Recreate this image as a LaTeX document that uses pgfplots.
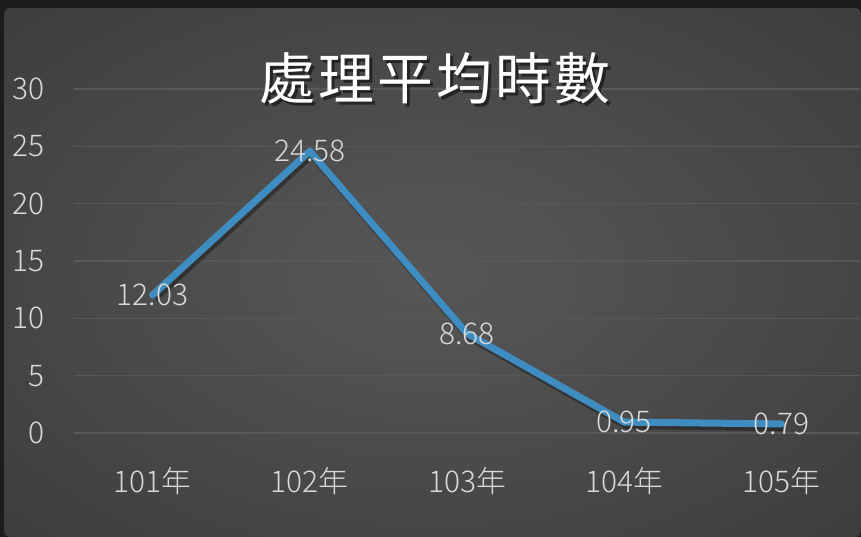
\documentclass[border=0pt]{standalone}
\usepackage{fontspec}
\setmainfont{Noto Sans CJK TC}[UprightFont={* Light},BoldFont={* Bold}]
\newfontfamily\titlefont{Noto Sans CJK TC}[LetterSpace=6]
\usepackage{pgfplots}
\usepackage{pgfplotstable}
\pgfplotsset{compat=1.18}
\definecolor{bgframe}{HTML}{1C1C1C}
\definecolor{gridc}{HTML}{585858}
\definecolor{labc}{HTML}{D9D9D9}
\definecolor{linec}{HTML}{3F8DC0}
\pgfdeclareradialshading{glow}{\pgfpoint{0bp}{0bp}}{%
  color(0bp)=(rgb,255:red,86;green,86;blue,86);
  color(8bp)=(rgb,255:red,82;green,82;blue,82);
  color(60bp)=(rgb,255:red,42;green,42;blue,42);
  color(70bp)=(rgb,255:red,36;green,36;blue,36)}

\pgfplotstableread{
x y
0 12.03
1 24.58
2 8.68
3 0.95
4 0.79
}\hours

\begin{document}
\begin{tikzpicture}
\useasboundingbox (0,0) rectangle (861bp,537bp);
\fill[bgframe] (0,0) rectangle (861bp,537bp);
\shade[shading=glow, rounded corners=6bp] (4bp,0) rectangle (861bp,529bp);
\begin{axis}[
  at={(74bp,104bp)}, anchor=south west,
  scale only axis, width=786bp, height=344bp,
  xmin=-0.5, xmax=4.5, ymin=0, ymax=30,
  xtick={0,...,4}, xticklabels={101年,102年,103年,104年,105年},
  ytick={0,5,...,30},
  axis line style={draw=none},
  major tick length=0pt,
  ymajorgrids, grid style={gridc, line width=1.5bp},
  tick label style={font=\fontsize{30}{32}\selectfont, text=labc},
  yticklabel style={anchor=east, xshift=-26bp},
  xticklabel style={anchor=north, yshift=-31bp},
  /pgf/number format/assume math mode=true,
  clip=false,
]
\addplot[black, opacity=0.35, line width=8bp, line join=round, xshift=2bp, yshift=-3bp] table[x=x,y=y]{\hours};
\addplot[linec, line width=7bp, line join=round, line cap=round,
  nodes near coords,
  every node near coord/.append style={anchor=center, text=labc,
    font=\fontsize{30}{32}\selectfont,
    /pgf/number format/fixed, /pgf/number format/fixed zerofill,
    /pgf/number format/precision=2, /pgf/number format/assume math mode=true},
] table[x=x,y=y]{\hours};
\end{axis}
\node[font=\fontsize{56}{60}\titlefont, text=black, opacity=0.5] at (438bp,456bp) {處理平均時數};
\node[font=\fontsize{56}{60}\titlefont, text=white] at (435bp,459bp) {處理平均時數};
\end{tikzpicture}
\end{document}
